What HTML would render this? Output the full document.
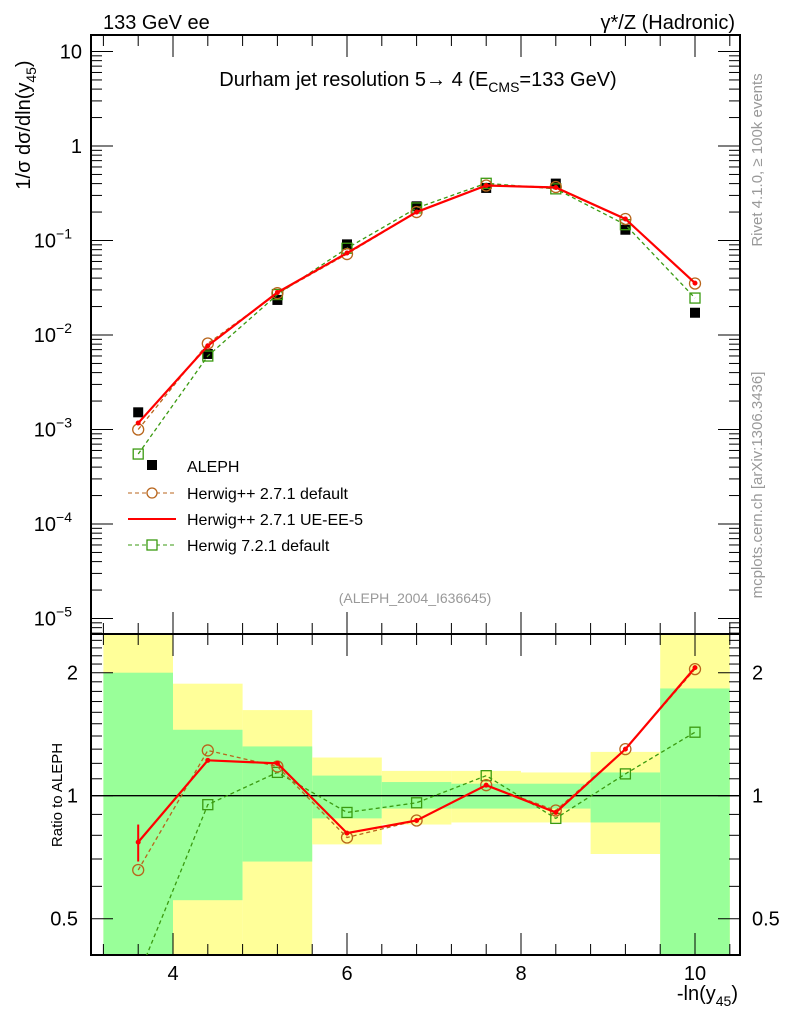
<!DOCTYPE html>
<html><head><meta charset="utf-8"><style>
body{margin:0;background:#fff;}
svg{display:block;font-family:"Liberation Sans",sans-serif;}
</style></head><body>
<svg id="c" width="786" height="1024" viewBox="0 0 786 1024">
<text x="103" y="29" font-size="20">133 GeV ee</text>
<text x="735" y="29" font-size="20" text-anchor="end">γ*/Z (Hadronic)</text>
<text x="418" y="86" font-size="20" text-anchor="middle">Durham jet resolution 5→ 4 (E<tspan font-size="14" dy="6">CMS</tspan><tspan dy="-6">=133 GeV)</tspan></text>
<text transform="translate(30,125) rotate(-90)" font-size="20" text-anchor="middle">1/σ  dσ/dln(y<tspan font-size="14" dy="6">45</tspan><tspan dy="-6">)</tspan></text>
<text transform="translate(62,795) rotate(-90)" font-size="15" text-anchor="middle">Ratio to ALEPH</text>
<text x="738" y="1000" font-size="20" text-anchor="end">-ln(y<tspan font-size="14" dy="6">45</tspan><tspan dy="-6">)</tspan></text>
<text transform="translate(762,160) rotate(-90)" font-size="15" fill="#999" text-anchor="middle">Rivet 4.1.0, ≥ 100k events</text>
<text transform="translate(762,485) rotate(-90)" font-size="15" fill="#999" text-anchor="middle">mcplots.cern.ch [arXiv:1306.3436]</text>
<text x="415" y="603" font-size="14" fill="#999" text-anchor="middle">(ALEPH_2004_I636645)</text>
<g id="bands"></g><g id="axes"></g><g id="series"></g>
<g>
<rect x="147" y="460" width="10" height="10" fill="#000"/>
<text x="187" y="472" font-size="16">ALEPH</text>
<line x1="128" y1="493" x2="176" y2="493" stroke="#b8651c" stroke-dasharray="4,3"/>
<circle cx="152" cy="493" r="5" fill="#fff" stroke="#b8651c" stroke-width="1.3"/>
<text x="187" y="499" font-size="16">Herwig++ 2.7.1 default</text>
<line x1="128" y1="519" x2="176" y2="519" stroke="#f00" stroke-width="2"/>
<text x="187" y="525" font-size="16">Herwig++ 2.7.1 UE-EE-5</text>
<line x1="128" y1="545" x2="176" y2="545" stroke="#3a9a10" stroke-dasharray="4,3"/>
<rect x="147" y="540" width="10" height="10" fill="#fff" stroke="#3a9a10" stroke-width="1.3"/>
<text x="187" y="551" font-size="16">Herwig 7.2.1 default</text>
</g>
</svg>
<script>
const xCenters=[3.6,4.4,5.2,6.0,6.8,7.6,8.4,9.2,10.0];
const binEdges=[3.2,4.0,4.8,5.6,6.4,7.2,8.0,8.8,9.6,10.4];
const alephValues=[1.52e-3,6.3e-3,0.0235,0.091,0.23,0.36,0.40,0.13,0.0172];
const hppDefault=[1.0e-3,8.13e-3,0.0277,0.0719,0.200,0.382,0.368,0.169,0.0351];
const hppUEEE5=[1.17e-3,7.69e-3,0.0282,0.0737,0.200,0.382,0.364,0.169,0.0354];
const h7Default=[5.5e-4,5.99e-3,0.0268,0.0828,0.221,0.403,0.352,0.147,0.0246];
const statLow=[0.3,0.555,0.69,0.88,0.93,0.93,0.93,0.86,0.3];
const statHigh=[2.0,1.45,1.32,1.12,1.08,1.07,1.07,1.14,1.83];
const totLow=[0.3,0.3,0.3,0.76,0.85,0.86,0.86,0.72,0.3];
const totHigh=[3,1.88,1.62,1.24,1.15,1.15,1.14,1.28,3];
const yTickVals=[1e-5,1e-4,1e-3,1e-2,1e-1,1,10];
const yTickLabels=["10","10","10","10","10","1","10"];
const yTickExps=["−5","−4","−3","−2","−1","",""];
const xTickVals=[4,6,8,10];
const rTickVals=[0.5,1,2];

const NS="http://www.w3.org/2000/svg";
const L=91,R=740,T=35,M=634,B=955;
const X=v=>173+(v-4)*87;
const Y=v=>51.5+(1-Math.log10(v))*94.5;
const RY=r=>795.7-Math.log2(r)*123;
const clampR=y=>Math.max(M,Math.min(B,y));
function el(tag,attrs,parent){const e=document.createElementNS(NS,tag);for(const k in attrs)e.setAttribute(k,attrs[k]);parent.appendChild(e);return e;}
const bands=document.getElementById('bands'),axes=document.getElementById('axes'),series=document.getElementById('series');

for(let i=0;i<xCenters.length;i++){
  const x1=X(binEdges[i]),x2=X(binEdges[i+1]);
  let y1=clampR(RY(totHigh[i])),y2=clampR(RY(totLow[i]));
  const yb=el('rect',{x:x1,y:y1,width:x2-x1,height:y2-y1,fill:'#ffff99'},bands);
  
  
  y1=clampR(RY(statHigh[i]));y2=clampR(RY(statLow[i]));
  const gb=el('rect',{x:x1,y:y1,width:x2-x1,height:y2-y1,fill:'#99ff99'},bands);
  
  
}

const f1=el('rect',{x:L,y:T,width:R-L,height:M-T,fill:'none',stroke:'#000','stroke-width':2},axes);


const f2=el('rect',{x:L,y:M,width:R-L,height:B-M,fill:'none',stroke:'#000','stroke-width':2},axes);


const one=el('line',{x1:L,x2:R,y1:RY(1),y2:RY(1),stroke:'#000','stroke-width':1.3},axes);



for(let d=-6;d<=1;d++){
  for(let m=1;m<10;m++){
    const v=m*Math.pow(10,d),y=Y(v);
    if(y<T||y>M)continue;
    const len=m===1?22:11;
    el('line',{x1:L,x2:L+len,y1:y,y2:y,stroke:'#000'},axes);
    el('line',{x1:R,x2:R-len,y1:y,y2:y,stroke:'#000'},axes);
  }
}
yTickVals.forEach((v,i)=>{
  const t=el('text',{x:yTickExps[i]?72:82,y:Y(v)+7,'font-size':20,'text-anchor':'end'},axes);
  t.textContent=yTickLabels[i];
  
  
  if(yTickExps[i]){const s=el('tspan',{'font-size':14,dy:-9},t);s.textContent=yTickExps[i];}
});
for(let v=3.2;v<=10.41;v+=0.4){
  const x=X(v),maj=Math.abs(v-Math.round(v))<0.01&&Math.round(v)%2===0;
  const len=maj?22:11;
  [[T,1],[M,-1],[M,1],[B,-1]].forEach(([y0,s])=>el('line',{x1:x,x2:x,y1:y0,y2:y0+s*len,stroke:'#000'},axes));
}
xTickVals.forEach(v=>{
  const t=el('text',{x:X(v),y:980,'font-size':20,'text-anchor':'middle'},axes);
  t.textContent=String(v);
  
  
});
for(let v=0.4;v<=2.5;v+=0.1){
  const y=RY(v);if(y<M||y>B)continue;
  const maj=rTickVals.some(r=>Math.abs(r-v)<0.01);
  const len=maj?22:11;
  el('line',{x1:L,x2:L+len,y1:y,y2:y,stroke:'#000'},axes);
  el('line',{x1:R,x2:R-len,y1:y,y2:y,stroke:'#000'},axes);
}
rTickVals.forEach(v=>{
  ['left','right'].forEach(side=>{
    const t=el('text',{x:side==='left'?78:752,y:RY(v)+7,'font-size':20,'text-anchor':side==='left'?'end':'start'},axes);
    t.textContent=String(v);
    
    
  });
});

alephValues.forEach((v,i)=>{
  const r=el('rect',{x:X(xCenters[i])-5,y:Y(v)-5,width:10,height:10,fill:'#000'},series);
  
  
});

function drawSeries(vals,color,dash,width,marker,name){
  const main=xCenters.map((x,i)=>X(x)+','+Y(vals[i])).join(' ');
  const p=el('polyline',{points:main,fill:'none',stroke:color,'stroke-width':width,'stroke-dasharray':dash||'none'},series);
  
  
  const rat=xCenters.map((x,i)=>X(x)+','+RY(vals[i]/alephValues[i])).join(' ');
  const cp=el('clipPath',{id:'clip-'+name},series);
  el('rect',{x:L,y:M,width:R-L,height:B-M},cp);
  const q=el('polyline',{points:rat,fill:'none',stroke:color,'stroke-width':width,'stroke-dasharray':dash||'none','clip-path':'url(#clip-'+name+')'},series);
  
  
  xCenters.forEach((xv,i)=>{
    const x=X(xv);
    [Y(vals[i]),RY(vals[i]/alephValues[i])].forEach(y=>{
      if(y>B)return;
      let m;
      if(marker==='circle')m=el('circle',{cx:x,cy:y,r:5.5,fill:'none',stroke:color,'stroke-width':1.3},series);
      else if(marker==='square')m=el('rect',{x:x-5,y:y-5,width:10,height:10,fill:'none',stroke:color,'stroke-width':1.3},series);
      else m=el('circle',{cx:x,cy:y,r:2.5,fill:color},series);
      
      
    });
  });
}
drawSeries(h7Default,'#3a9a10','4,3',1.3,'square','herwig7-default');
drawSeries(hppDefault,'#b8651c','4,3',1.3,'circle','herwigpp-default');
drawSeries(hppUEEE5,'#ff0000',null,2.2,'dot','herwigpp-ueee5');
const eb=el('line',{x1:X(3.6),x2:X(3.6),y1:RY(0.85),y2:RY(0.69),stroke:'#f00','stroke-width':2},series);


</script>
</body></html>
